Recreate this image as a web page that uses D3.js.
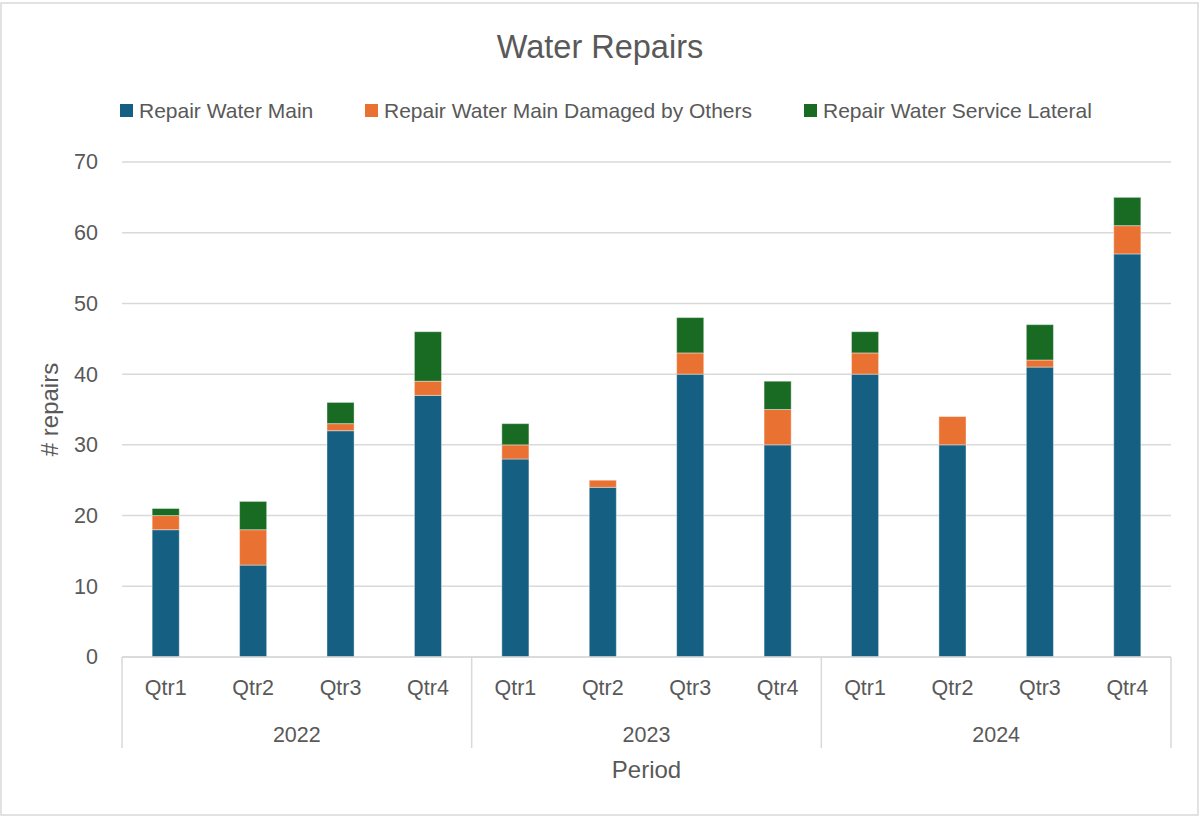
<!DOCTYPE html>
<html>
<head>
<meta charset="utf-8">
<script src="https://cdn.jsdelivr.net/npm/d3@7"></script>
<style>
  body { margin: 0; background: #fff; }
  text { font-family: "Liberation Sans", Arial, sans-serif; fill: #595959; }
</style>
</head>
<body>
<svg id="chart" width="1200" height="817"></svg>
<script>
var years = ["2022", "2023", "2024"];
var quarters = ["Qtr1", "Qtr2", "Qtr3", "Qtr4"];
var seriesNames = ["Repair Water Main", "Repair Water Main Damaged by Others", "Repair Water Service Lateral"];
var mainRepairs    = [18, 13, 32, 37, 28, 24, 40, 30, 40, 30, 41, 57];
var damagedRepairs = [ 2,  5,  1,  2,  2,  1,  3,  5,  3,  4,  1,  4];
var lateralRepairs = [ 1,  4,  3,  7,  3,  0,  5,  4,  3,  0,  5,  4];
var yTicks = [0, 10, 20, 30, 40, 50, 60, 70];
var colors = ["#156082", "#E97132", "#196B24"];

var svg = d3.select("#chart"),
    width = +svg.attr("width"),
    height = +svg.attr("height");

var margin = {top: 162, right: 29, bottom: 160, left: 122};

// chart border
svg.append("rect")
    .attr("x", 1).attr("y", 3)
    .attr("width", width - 3).attr("height", height - 5)
    .attr("fill", "none")
    .attr("stroke", "#d9d9d9")
    .attr("stroke-width", 1.5);

// build the table
var keys = ["main", "damaged", "lateral"];
var table = [];
years.forEach(function(y, i) {
  quarters.forEach(function(q, j) {
    var k = i * 4 + j;
    table.push({id: y + "-" + q, year: y, qtr: q,
      main: mainRepairs[k], damaged: damagedRepairs[k], lateral: lateralRepairs[k]});
  });
});

var x = d3.scaleBand()
    .domain(table.map(function(d) { return d.id; }))
    .range([margin.left, width - margin.right])
    .paddingInner(0.69)
    .paddingOuter(0.345);

var y = d3.scaleLinear()
    .domain([0, 70])
    .range([height - margin.bottom, margin.top]);

// gridlines
svg.append("g")
  .selectAll("line")
  .data(yTicks)
  .enter().append("line")
    .attr("x1", margin.left)
    .attr("x2", width - margin.right)
    .attr("y1", function(d) { return y(d); })
    .attr("y2", function(d) { return y(d); })
    .attr("stroke", "#d9d9d9")
    .attr("stroke-width", 1.5);

// y axis
var yAxis = svg.append("g")
    .attr("transform", "translate(" + (margin.left - 24) + ",0)")
    .call(d3.axisLeft(y).tickValues(yTicks).tickSize(0).tickPadding(0));
yAxis.select(".domain").remove();
yAxis.selectAll("text")
    .style("font-size", "21.5px")
    .attr("fill", "#595959");

// stacked bars
var stack = d3.stack().keys(keys)(table);

svg.append("g")
  .selectAll("g")
  .data(stack)
  .enter().append("g")
    .attr("fill", function(d, i) { return colors[i]; })
  .selectAll("rect")
  .data(function(d) { return d.filter(function(p) { return p[1] > p[0]; }); })
  .enter().append("rect")
    .attr("x", function(d) { return x(d.data.id); })
    .attr("y", function(d) { return y(d[1]); })
    .attr("width", x.bandwidth())
    .attr("height", function(d) { return y(d[0]) - y(d[1]); })
    .attr("stroke", "#ffffff")
    .attr("stroke-opacity", 0.4)
    .attr("stroke-width", 1);

// category axis (quarters + years)
var axisY = y(0);
var groupBottom = axisY + 91;
var step = x.step();

svg.append("line")
    .attr("x1", margin.left).attr("x2", width - margin.right)
    .attr("y1", axisY).attr("y2", axisY)
    .attr("stroke", "#d9d9d9").attr("stroke-width", 1.5);

var bounds = [0, 4, 8, 12];
svg.append("g")
  .selectAll("line")
  .data(bounds)
  .enter().append("line")
    .attr("x1", function(d) { return margin.left + d * step; })
    .attr("x2", function(d) { return margin.left + d * step; })
    .attr("y1", axisY)
    .attr("y2", groupBottom)
    .attr("stroke", "#d9d9d9").attr("stroke-width", 1.5);

svg.append("g")
  .selectAll("text")
  .data(table)
  .enter().append("text")
    .attr("x", function(d) { return x(d.id) + x.bandwidth() / 2; })
    .attr("y", axisY + 38)
    .attr("text-anchor", "middle")
    .style("font-size", "21.5px")
    .text(function(d) { return d.qtr; });

svg.append("g")
  .selectAll("text")
  .data(years)
  .enter().append("text")
    .attr("x", function(d, i) { return margin.left + (i * 4 + 2) * step; })
    .attr("y", axisY + 85)
    .attr("text-anchor", "middle")
    .style("font-size", "21.5px")
    .text(function(d) { return d; });

// axis titles
svg.append("text")
    .attr("x", (margin.left + width - margin.right) / 2)
    .attr("y", 778)
    .attr("text-anchor", "middle")
    .style("font-size", "24px")
    .text("Period");

svg.append("text")
    .attr("transform", "translate(58," + ((margin.top + axisY) / 2) + ") rotate(-90)")
    .attr("text-anchor", "middle")
    .style("font-size", "24px")
    .text("# repairs");

// title
svg.append("text")
    .attr("x", width / 2)
    .attr("y", 58)
    .attr("text-anchor", "middle")
    .style("font-size", "32.5px")
    .text("Water Repairs");

// legend
var legendX = [120, 365, 804];
var legend = svg.append("g")
  .selectAll("g")
  .data(seriesNames)
  .enter().append("g")
    .attr("transform", function(d, i) { return "translate(" + legendX[i] + ",104)"; });

legend.append("rect")
    .attr("width", 13).attr("height", 13)
    .attr("fill", function(d, i) { return colors[i]; });

legend.append("text")
    .attr("x", 19)
    .attr("y", 14)
    .style("font-size", "21px")
    .text(function(d) { return d; });
</script>
</body>
</html>
